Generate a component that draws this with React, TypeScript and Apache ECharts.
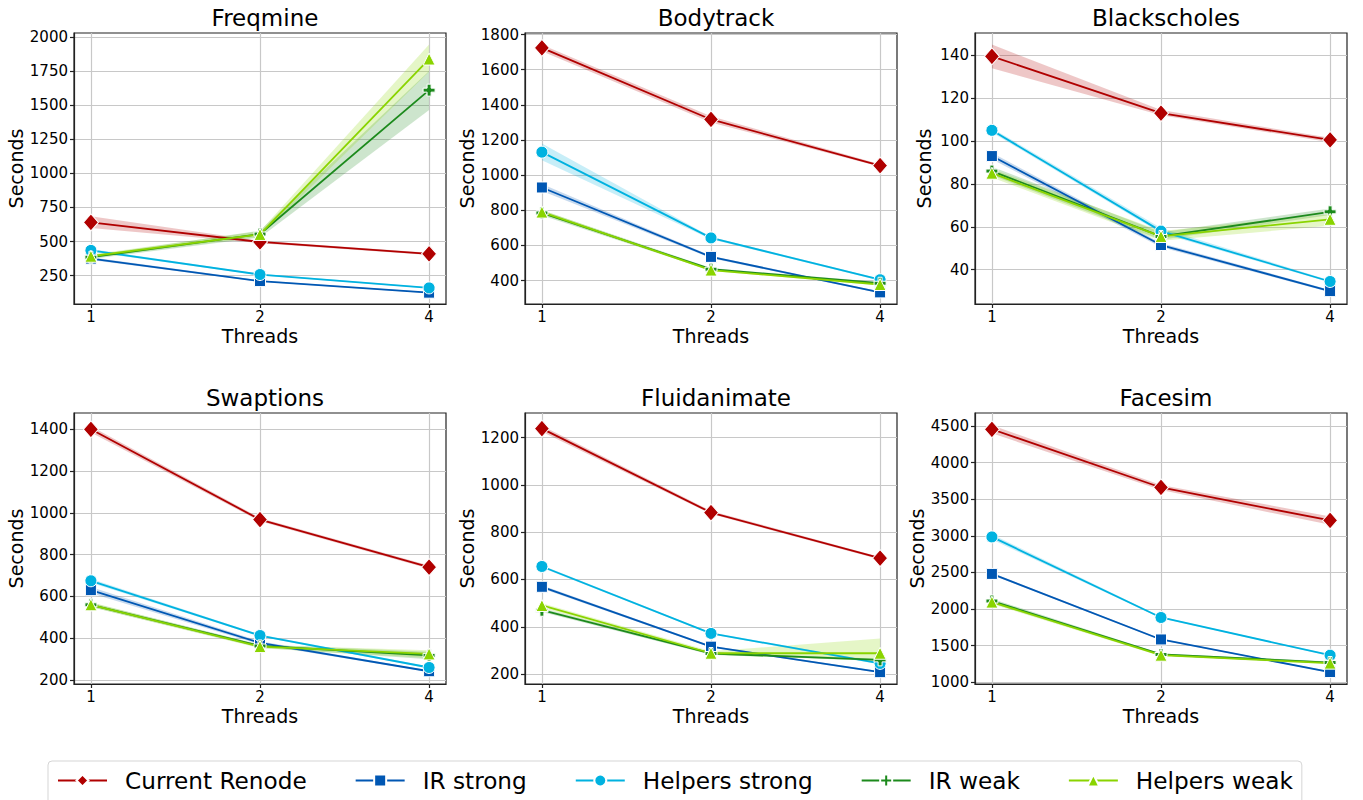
import React, { useEffect, useRef } from "react";
import * as echarts from "echarts";

// ---------- data ----------
const threads = [1, 2, 4];
const seriesNames = ["Current Renode", "IR strong", "Helpers strong", "IR weak", "Helpers weak"];
const panelTitles = ["Freqmine", "Bodytrack", "Blackscholes", "Swaptions", "Fluidanimate", "Facesim"];

// rows: Current Renode, IR strong, Helpers strong, IR weak, Helpers weak (values at 1, 2, 4 threads)
const freqmineMean = [[640, 497, 410], [375, 210, 125], [435, 258, 160], [385, 555, 1610], [392, 552, 1838]];
const freqmineLo = [[600, 488, 402], [365, 205, 120], [425, 252, 155], [372, 530, 1465], [380, 535, 1745]];
const freqmineHi = [[685, 506, 418], [385, 215, 130], [445, 264, 165], [398, 580, 1750], [405, 575, 1945]];

const bodytrackMean = [[1724, 1317, 1055], [930, 535, 333], [1131, 643, 405], [785, 465, 385], [790, 460, 378]];
const bodytrackLo = [[1705, 1300, 1048], [910, 528, 328], [1085, 636, 400], [770, 458, 378], [778, 455, 372]];
const bodytrackHi = [[1742, 1335, 1062], [950, 542, 338], [1180, 650, 410], [800, 472, 392], [802, 466, 384]];

const blackscholesMean = [[139.5, 113, 100.5], [93, 51.5, 30], [105, 58, 34.5], [86, 55.5, 67], [85, 55.5, 63.5]];
const blackscholesLo = [[134, 112, 99.5], [91.5, 50.5, 29.5], [104, 57, 34], [84, 54, 65.5], [83, 53.5, 60.5]];
const blackscholesHi = [[145, 114.5, 101.5], [94.5, 52.5, 30.5], [106, 59.5, 35], [88, 57.5, 68.5], [87, 58, 66]];

const swaptionsMean = [[1400, 968, 740], [630, 378, 242], [675, 413, 260], [560, 363, 318], [560, 360, 325]];
const swaptionsLo = [[1385, 960, 732], [615, 370, 238], [665, 408, 255], [550, 355, 300], [550, 352, 305]];
const swaptionsHi = [[1415, 976, 748], [645, 386, 246], [685, 418, 265], [570, 370, 335], [572, 368, 342]];

const fluidanimateMean = [[1238, 883, 690], [569, 316, 208], [655, 372, 245], [470, 287, 260], [490, 288, 288]];
const fluidanimateLo = [[1225, 877, 685], [562, 312, 205], [650, 368, 240], [462, 282, 255], [480, 282, 255]];
const fluidanimateHi = [[1250, 890, 695], [576, 320, 212], [660, 376, 250], [478, 292, 265], [500, 296, 350]];

const facesimMean = [[4455, 3660, 3210], [2480, 1585, 1140], [2985, 1885, 1370], [2110, 1380, 1270], [2095, 1370, 1262]];
const facesimLo = [[4400, 3625, 3150], [2465, 1575, 1130], [2950, 1875, 1360], [2080, 1365, 1255], [2070, 1355, 1245]];
const facesimHi = [[4510, 3695, 3265], [2495, 1595, 1150], [3020, 1895, 1380], [2140, 1395, 1285], [2120, 1385, 1280]];

// y axis ranges and tick labels
const yMins = [42, 267, 24, 181, 158, 977];
const yMaxs = [2029, 1809, 150.4, 1478, 1304, 4677];
const freqmineTicks = [250, 500, 750, 1000, 1250, 1500, 1750, 2000];
const bodytrackTicks = [400, 600, 800, 1000, 1200, 1400, 1600, 1800];
const blackscholesTicks = [40, 60, 80, 100, 120, 140];
const swaptionsTicks = [200, 400, 600, 800, 1000, 1200, 1400];
const fluidanimateTicks = [200, 400, 600, 800, 1000, 1200];
const facesimTicks = [1000, 1500, 2000, 2500, 3000, 3500, 4000, 4500];

// ---------- styles ----------
const colors = ["#b00000", "#0057b3", "#00b2e0", "#1c8a1c", "#8ad400"];
const PLUS = "path://M1,0H2V1H3V2H2V3H1V2H0V1H1Z";
const symbols = ["diamond", "rect", "circle", PLUS, "triangle"];
const symbolSizes: any[] = [[15, 17], 11, 12, 12, 12];
const FONT = "DejaVu Sans";

const gridLefts = [74, 525, 975];
const gridTops = [33, 413];
const GRID_W = 372;
const GRID_H = 271;

export default function App() {
  const ref = useRef<HTMLDivElement>(null);

  useEffect(() => {
    if (!ref.current) return;
    const chart = echarts.init(ref.current, null, { renderer: "svg" });

    const means = [freqmineMean, bodytrackMean, blackscholesMean, swaptionsMean, fluidanimateMean, facesimMean];
    const los = [freqmineLo, bodytrackLo, blackscholesLo, swaptionsLo, fluidanimateLo, facesimLo];
    const his = [freqmineHi, bodytrackHi, blackscholesHi, swaptionsHi, fluidanimateHi, facesimHi];
    const ticks = [freqmineTicks, bodytrackTicks, blackscholesTicks, swaptionsTicks, fluidanimateTicks, facesimTicks];
    const xPos = threads.map((_, i) => i);

    const grids: any[] = [];
    const xAxes: any[] = [];
    const yAxes: any[] = [];
    const titles: any[] = [];
    const series: any[] = [];

    const gridLine = { show: true, lineStyle: { color: "#c8c8c8", width: 1.2 } };

    panelTitles.forEach((title, p) => {
      const col = p % 3;
      const row = Math.floor(p / 3);
      const left = gridLefts[col];
      const top = gridTops[row];
      grids.push({
        left, top, width: GRID_W, height: GRID_H,
        show: true, borderColor: "#222", borderWidth: 1.2, backgroundColor: "transparent",
      });
      titles.push({
        text: title, left: left + GRID_W / 2, top: top - 32, textAlign: "center",
        textStyle: { fontSize: 23, fontWeight: "normal", color: "#000", fontFamily: FONT },
      });
      xAxes.push({
        type: "value", gridIndex: p, min: -0.1, max: 2.1,
        axisLine: { show: true, onZero: false, lineStyle: { color: "#222", width: 1.2 } },
        axisTick: { show: true, customValues: xPos, length: 4, lineStyle: { color: "#222", width: 1.2 } },
        axisLabel: {
          customValues: xPos, formatter: (v: number) => String(threads[Math.round(v)]),
          fontSize: 15, color: "#000", margin: 5, fontFamily: FONT,
        },
        splitLine: gridLine,
        name: "Threads", nameLocation: "middle", nameGap: 22,
        nameTextStyle: { fontSize: 19, color: "#000", fontFamily: FONT },
      });
      yAxes.push({
        type: "value", gridIndex: p, min: yMins[p], max: yMaxs[p],
        axisLine: { show: true, onZero: false, lineStyle: { color: "#222", width: 1.2 } },
        axisTick: { show: true, customValues: ticks[p], length: 4, lineStyle: { color: "#222", width: 1.2 } },
        axisLabel: {
          customValues: ticks[p], formatter: (v: number) => String(v),
          fontSize: 15, color: "#000", margin: 6, fontFamily: FONT,
        },
        splitLine: gridLine,
        name: "Seconds", nameLocation: "middle", nameGap: p === 2 ? 42 : 47,
        nameTextStyle: { fontSize: 19, color: "#000", fontFamily: FONT },
      });

      // confidence bands: one polygon per segment between consecutive thread counts
      seriesNames.forEach((name, s) => {
        const lo = los[p][s];
        const hi = his[p][s];
        const segs: number[][] = [];
        for (let i = 0; i < xPos.length - 1; i++) {
          segs.push([xPos[i], lo[i], hi[i], xPos[i + 1], lo[i + 1], hi[i + 1]]);
        }
        const color = colors[s];
        series.push({
          type: "custom", name: `band-${p}-${s}`, xAxisIndex: p, yAxisIndex: p,
          silent: true, z: 1, data: segs,
          encode: { x: [0, 3], y: [1, 2, 4, 5] },
          renderItem: (params: any, api: any) => {
            const a = api.coord([api.value(0), api.value(1)]);
            const b = api.coord([api.value(0), api.value(2)]);
            const c = api.coord([api.value(3), api.value(5)]);
            const d = api.coord([api.value(3), api.value(4)]);
            return {
              type: "polygon",
              shape: { points: [a, b, c, d] },
              style: { fill: color, opacity: 0.22, stroke: "none" },
            };
          },
        });
      });
      seriesNames.forEach((name, s) => {
        const mean = means[p][s];
        series.push({
          type: "line", name, xAxisIndex: p, yAxisIndex: p, z: 3,
          data: mean.map((v, i) => [xPos[i], v]),
          symbol: symbols[s], symbolSize: symbolSizes[s],
          lineStyle: { color: colors[s], width: 1.8 },
          itemStyle: { color: colors[s], borderColor: "#fff", borderWidth: 1 },
        });
      });
    });

    chart.setOption({
      animation: false,
      backgroundColor: "#fff",
      textStyle: { fontFamily: FONT },
      title: titles,
      grid: grids,
      xAxis: xAxes,
      yAxis: yAxes,
      legend: {
        data: seriesNames, left: 48, top: 761, orient: "horizontal",
        itemWidth: 49, itemHeight: 15, itemGap: 48,
        padding: [8, 9, 12, 9],
        borderColor: "#d5d5d5", borderWidth: 1, borderRadius: 4, backgroundColor: "#fff",
        textStyle: { fontSize: 23.2, color: "#000", fontFamily: FONT, padding: [0, 0, 0, 13] },
      },
      series,
    });

    return () => chart.dispose();
  }, []);

  return (
    <div
      ref={ref}
      style={{ position: "fixed", left: 0, top: 0, width: 1363, height: 800, background: "#fff" }}
    />
  );
}
